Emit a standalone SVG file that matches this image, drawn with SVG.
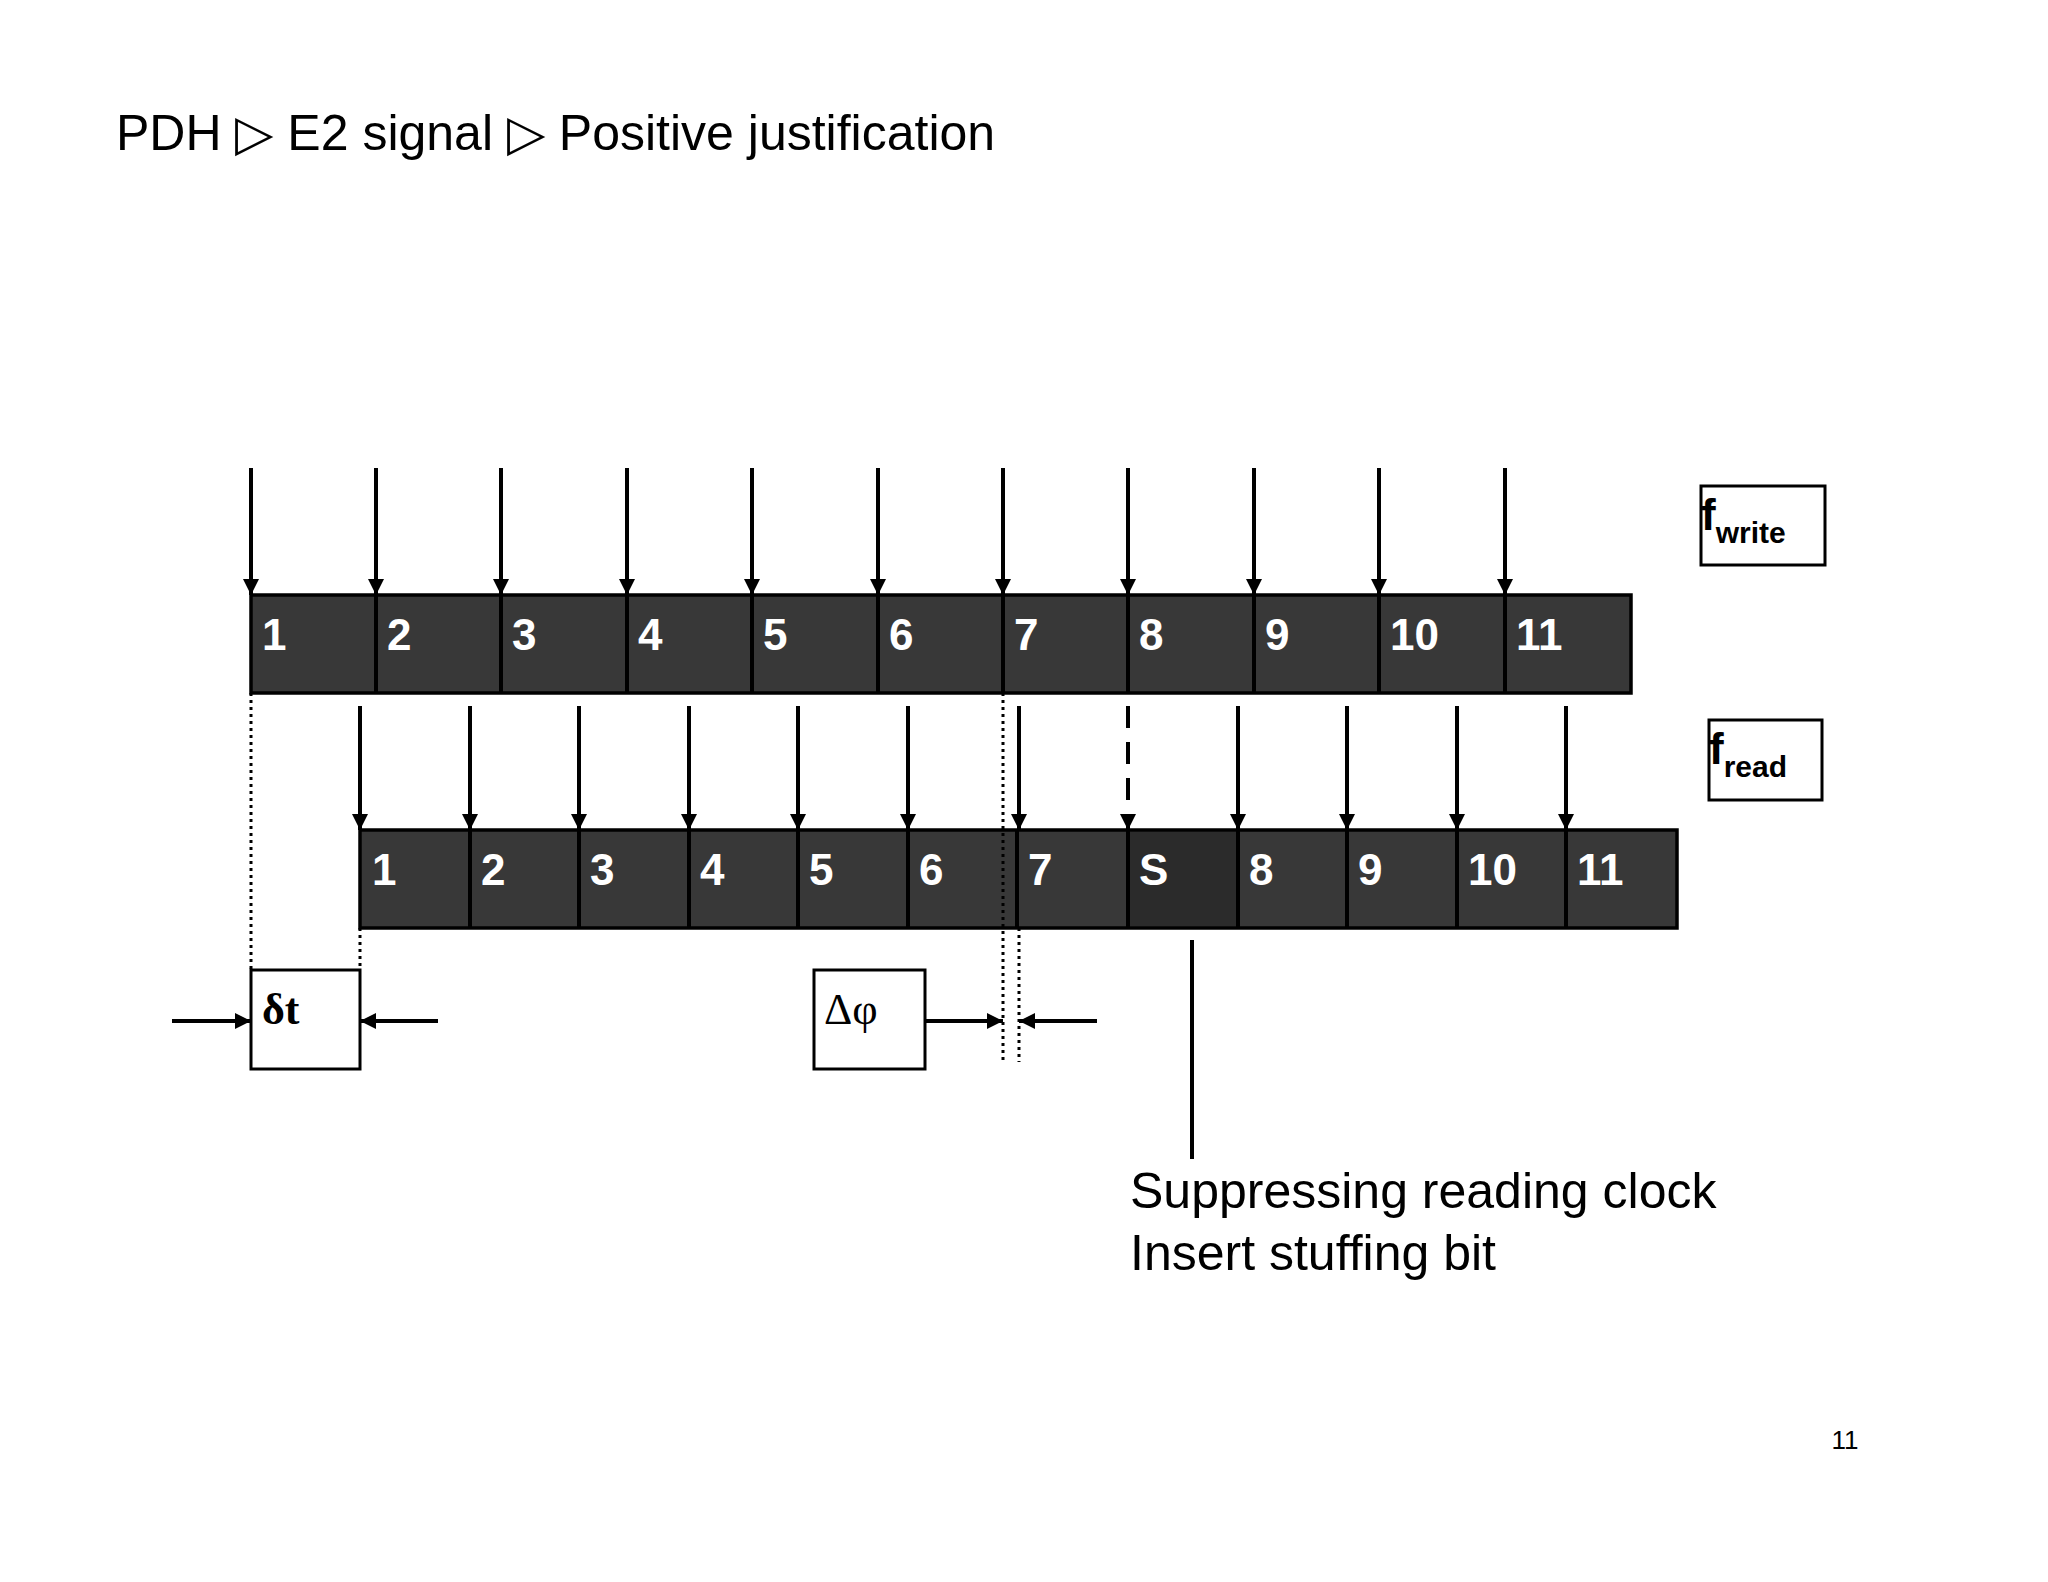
<svg xmlns="http://www.w3.org/2000/svg" width="2048" height="1582" viewBox="0 0 2048 1582">
<style>
.c{fill:#383838;stroke:#000;stroke-width:3.5}
.n{font-family:"Liberation Sans",Arial,sans-serif;font-weight:bold;font-size:44px;fill:#fff}
.a{stroke:#000;stroke-width:4;fill:none}
.d{stroke:#000;stroke-width:3;stroke-dasharray:3 4;fill:none}
.t{font-family:"Liberation Sans",Arial,sans-serif;fill:#000}
.b{fill:#fff;stroke:#000;stroke-width:3}
</style>
<defs>
<marker id="ah" viewBox="0 0 10 10" refX="10" refY="5" markerWidth="4" markerHeight="4" orient="auto" markerUnits="strokeWidth"><path d="M0,0L10,5L0,10z" fill="#000"/></marker>
</defs>
<rect width="2048" height="1582" fill="#fff"/>
<text class="t" x="116" y="150" font-size="50">PDH ▷ E2 signal  ▷ Positive justification</text>
<g id="write-row">
<rect class="c" x="251" y="595" width="1380" height="98"/>
<g class="a"><path d="M376 595V693M501 595V693M627 595V693M752 595V693M878 595V693M1003 595V693M1128 595V693M1254 595V693M1379 595V693M1505 595V693"/></g>
<text class="n" x="262" y="650">1</text><text class="n" x="387" y="650">2</text><text class="n" x="512" y="650">3</text><text class="n" x="638" y="650">4</text><text class="n" x="763" y="650">5</text><text class="n" x="889" y="650">6</text><text class="n" x="1014" y="650">7</text><text class="n" x="1139" y="650">8</text><text class="n" x="1265" y="650">9</text><text class="n" x="1390" y="650">10</text><text class="n" x="1516" y="650">11</text>
</g>
<g id="read-row">
<rect class="c" x="360" y="830" width="1317" height="98"/>
<rect x="1128" y="832" width="110" height="94" fill="#2b2b2b"/>
<g class="a"><path d="M470 830V928M579 830V928M689 830V928M798 830V928M908 830V928M1017 830V928M1128 830V928M1238 830V928M1347 830V928M1457 830V928M1566 830V928"/></g>
<text class="n" x="372" y="885">1</text><text class="n" x="481" y="885">2</text><text class="n" x="590" y="885">3</text><text class="n" x="700" y="885">4</text><text class="n" x="809" y="885">5</text><text class="n" x="919" y="885">6</text><text class="n" x="1028" y="885">7</text><text class="n" x="1139" y="885">S</text><text class="n" x="1249" y="885">8</text><text class="n" x="1358" y="885">9</text><text class="n" x="1468" y="885">10</text><text class="n" x="1577" y="885">11</text>
</g>
<g id="fwrite"><rect class="b" x="1701" y="486" width="124" height="79"/><text class="t" x="1701" y="530" font-size="44" font-weight="bold">f<tspan font-size="30" dy="13">write</tspan></text></g>
<g id="fread"><rect class="b" x="1709" y="720" width="113" height="80"/><text class="t" x="1709" y="764" font-size="44" font-weight="bold">f<tspan font-size="30" dy="13">read</tspan></text></g>
<g id="dt"><rect class="b" x="251" y="970" width="109" height="99"/><text x="262" y="1024" font-family="Liberation Serif,serif" font-weight="bold" font-size="44">δt</text></g>
<g id="dphi"><rect class="b" x="814" y="970" width="111" height="99"/><text x="824" y="1024" font-family="Liberation Serif,serif" font-size="44">Δφ</text></g>
<g id="connectors">
<g class="a" marker-end="url(#ah)">
<path d="M251 468V595"/><path d="M376 468V595"/><path d="M501 468V595"/><path d="M627 468V595"/><path d="M752 468V595"/><path d="M878 468V595"/><path d="M1003 468V595"/><path d="M1128 468V595"/><path d="M1254 468V595"/><path d="M1379 468V595"/><path d="M1505 468V595"/>
<path d="M360 706V830"/><path d="M470 706V830"/><path d="M579 706V830"/><path d="M689 706V830"/><path d="M798 706V830"/><path d="M908 706V830"/><path d="M1019 706V830"/><path d="M1128 706V830" stroke-dasharray="22 14"/><path d="M1238 706V830"/><path d="M1347 706V830"/><path d="M1457 706V830"/><path d="M1566 706V830"/>
<path d="M172 1021H251"/><path d="M438 1021H360"/><path d="M925 1021H1003"/><path d="M1097 1021H1019"/>
</g>
<path class="d" d="M251 693V970M360 928V970M1003 693V1062M1019 928V1062"/>
<path class="a" d="M1192 940V1159" stroke-width="3"/>
</g>
<text class="t" x="1130" y="1208" font-size="50">Suppressing reading clock</text>
<text class="t" x="1130" y="1270" font-size="50">Insert stuffing bit</text>
<text class="t" x="1845" y="1449" font-size="26" text-anchor="middle">11</text>
</svg>
